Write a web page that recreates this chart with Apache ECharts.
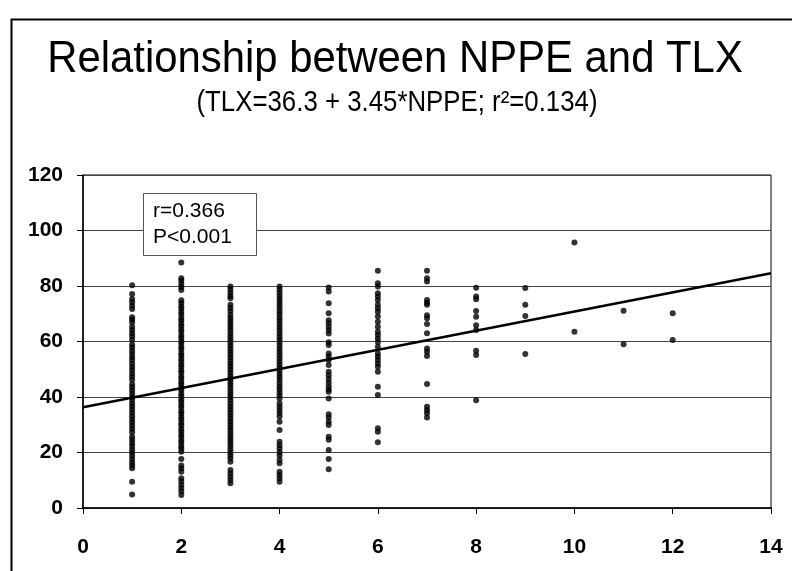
<!DOCTYPE html>
<html>
<head>
<meta charset="utf-8">
<script src="https://cdn.jsdelivr.net/npm/echarts@6/dist/echarts.min.js"></script>
<style>
  html, body { margin: 0; padding: 0; background: #fff; }
  #chart-container { width: 792px; height: 571px; }
</style>
</head>
<body>
<div id="chart-container"></div>
<script>
// NPPE levels on the x axis, TLX scores read per column
var nppeLevels = [1, 2, 3, 4, 5, 6, 7, 8, 9, 10, 11, 12];

var tlx1 = [80.3, 77.1, 75.3, 74.1, 72.9, 71.7, 68.7, 67.9, 66.9, 65.3, 64.1, 63.0, 61.9, 60.6, 58.9, 57.8, 56.6, 55.5,
  54.3, 53.2, 52.0, 50.8, 49.7, 48.5, 47.4, 46.2, 44.6, 43.5, 42.3, 41.2, 40.0, 38.9, 37.7, 36.6, 35.4, 34.2, 33.1,
  31.9, 30.8, 29.6, 28.5, 27.3, 25.7, 24.6, 23.4, 22.3, 21.1, 20.0, 18.8, 17.7, 16.5, 15.4, 14.3, 9.5, 4.9];
var tlx2 = [88.5, 82.8, 81.9, 80.7, 79.6, 78.6, 74.9, 73.9, 72.7, 71.8, 70.6, 69.7, 68.5, 67.6, 66.4, 65.5, 64.3, 63.4,
  62.2, 61.3, 60.1, 59.2, 58.0, 57.1, 55.9, 55.0, 53.8, 52.9, 51.7, 50.8, 49.6, 48.7, 47.5, 46.6, 45.4, 44.5, 43.3,
  42.4, 41.2, 40.3, 39.1, 38.2, 37.0, 36.1, 34.9, 34.0, 32.8, 31.9, 30.7, 29.8, 28.6, 27.7, 26.5, 25.6, 24.4, 23.5,
  22.3, 21.4, 20.3, 17.7, 15.3, 14.2, 13.1, 10.7, 9.6, 8.4, 7.2, 6.0, 4.7];
var tlx3 = [79.8, 78.7, 77.6, 76.5, 75.6, 73.2, 72.1, 71.0, 69.6, 68.5, 67.4, 66.3, 65.2, 64.1, 63.0, 61.9, 60.8, 59.7,
  58.6, 57.5, 56.4, 55.3, 54.2, 53.1, 52.0, 50.9, 49.8, 48.7, 47.6, 46.5, 45.4, 44.3, 43.2, 42.1, 41.0, 39.9, 38.8,
  37.7, 36.6, 35.5, 34.4, 33.3, 32.2, 31.1, 30.0, 28.9, 27.8, 26.7, 25.6, 24.5, 23.4, 22.3, 21.2, 20.1, 19.0, 17.9,
  16.7, 13.7, 12.5, 11.3, 10.1, 8.9];
var tlx4 = [79.8, 78.7, 77.6, 76.4, 75.3, 74.2, 73.1, 72.0, 70.8, 69.7, 68.6, 67.5, 66.3, 65.2, 64.1, 63.0, 61.8, 60.7,
  59.6, 58.5, 57.3, 56.2, 55.1, 54.0, 52.8, 51.7, 50.6, 49.5, 48.3, 47.2, 46.1, 45.0, 43.8, 42.7, 41.6, 40.5, 39.5,
  37.7, 36.5, 35.3, 34.2, 33.0, 31.1, 28.1, 23.9, 22.6, 21.4, 20.1, 18.9, 17.4, 16.1, 13.1, 11.9, 10.7, 9.5];
var tlx5 = [79.5, 78.0, 73.8, 70.2, 67.7, 66.6, 65.3, 64.1, 62.9, 59.7, 58.7, 55.7, 54.6, 53.3, 51.5, 49.1, 47.8, 46.5,
  45.2, 43.9, 42.8, 41.9, 39.5, 33.8, 32.6, 31.1, 29.9, 25.7, 24.6, 20.9, 17.7, 14.0];
var tlx6 = [85.5, 81.0, 79.8, 77.4, 76.2, 75.0, 73.2, 72.0, 70.7, 69.0, 67.1, 65.3, 63.5, 62.3, 61.1, 59.8, 58.1, 55.7,
  54.5, 53.3, 52.1, 50.9, 49.1, 43.7, 40.7, 28.7, 27.5, 23.7];
var tlx7 = [85.5, 82.8, 81.6, 75.0, 74.0, 73.2, 69.5, 68.4, 66.3, 63.0, 57.5, 56.3, 54.8, 44.7, 36.5, 35.3, 34.1, 32.6];
var tlx8 = [79.4, 76.2, 75.2, 71.0, 68.9, 65.9, 64.1, 56.7, 55.1, 38.8];
var tlx9 = [79.3, 73.2, 69.2, 55.5];
var tlx10 = [95.7, 63.5];
var tlx11 = [71.1, 59.0];
var tlx12 = [70.2, 60.5];
var tlxColumns = [tlx1, tlx2, tlx3, tlx4, tlx5, tlx6, tlx7, tlx8, tlx9, tlx10, tlx11, tlx12];

// regression TLX = 36.3 + 3.45*NPPE
var intercept = 36.3;
var slope = 3.45;
var fitRange = [0, 14];

var xTicks = { min: 0, max: 14, interval: 2 };
var yTicks = { min: 0, max: 120, interval: 20 };

var points = [];
nppeLevels.forEach(function (x, i) {
  tlxColumns[i].forEach(function (y) { points.push([x, y]); });
});
var fitLine = fitRange.map(function (x) { return [x, intercept + slope * x]; });

var font = "'Liberation Sans', Arial, sans-serif";

var dom = document.getElementById('chart-container');
var myChart = echarts.init(dom, null, { renderer: 'canvas' });

var option = {
  backgroundColor: '#fff',
  animation: false,
  grid: {
    left: 83, right: 21, top: 175, bottom: 63,
    show: true, borderColor: '#000', borderWidth: 1
  },
  xAxis: {
    type: 'value',
    min: xTicks.min, max: xTicks.max, interval: xTicks.interval,
    axisLine: { lineStyle: { color: '#000', width: 1.5 } },
    axisTick: { show: true, length: 6, lineStyle: { color: '#000' } },
    axisLabel: { color: '#000', fontFamily: font, fontWeight: 'bold', fontSize: 21, margin: 29 },
    splitLine: { show: false }
  },
  yAxis: {
    type: 'value',
    min: yTicks.min, max: yTicks.max, interval: yTicks.interval,
    axisLine: { show: true, lineStyle: { color: '#000', width: 1.5 } },
    axisTick: { show: true, length: 6, lineStyle: { color: '#000' } },
    axisLabel: { color: '#000', fontFamily: font, fontWeight: 'bold', fontSize: 21, margin: 20 },
    splitLine: { show: true, lineStyle: { color: '#444', width: 1 } }
  },
  graphic: [
    {
      type: 'rect', left: 9, top: 17, z: -10,
      shape: { width: 900, height: 700 },
      style: { fill: 'none', stroke: '#000', lineWidth: 2 }
    },
    {
      type: 'text', x: 395, y: 60, scaleX: 0.93,
      style: {
        text: 'Relationship between NPPE and TLX', fill: '#000',
        font: '45px ' + font, textAlign: 'center', textVerticalAlign: 'middle'
      }
    },
    {
      type: 'text', x: 397, y: 103, scaleX: 0.89,
      style: {
        text: '(TLX=36.3 + 3.45*NPPE; r\u00b2=0.134)', fill: '#000',
        font: '29px ' + font, textAlign: 'center', textVerticalAlign: 'middle'
      }
    },
    {
      type: 'rect', left: 143, top: 193, z: 100,
      shape: { width: 113, height: 62 },
      style: { fill: '#fff', stroke: '#555', lineWidth: 1 }
    },
    {
      type: 'text', left: 153, top: 201, z: 101,
      style: { text: 'r=0.366', fill: '#000', font: '21px ' + font }
    },
    {
      type: 'text', left: 153, top: 227, z: 101,
      style: { text: 'P<0.001', fill: '#000', font: '21px ' + font }
    }
  ],
  series: [
    {
      type: 'scatter',
      data: points,
      symbolSize: 6,
      itemStyle: { color: '#000' }
    },
    {
      type: 'line',
      data: fitLine,
      symbol: 'none',
      lineStyle: { color: '#000', width: 2.5 },
      z: 5
    }
  ]
};

myChart.setOption(option);
window.addEventListener('resize', myChart.resize);
</script>
</body>
</html>
